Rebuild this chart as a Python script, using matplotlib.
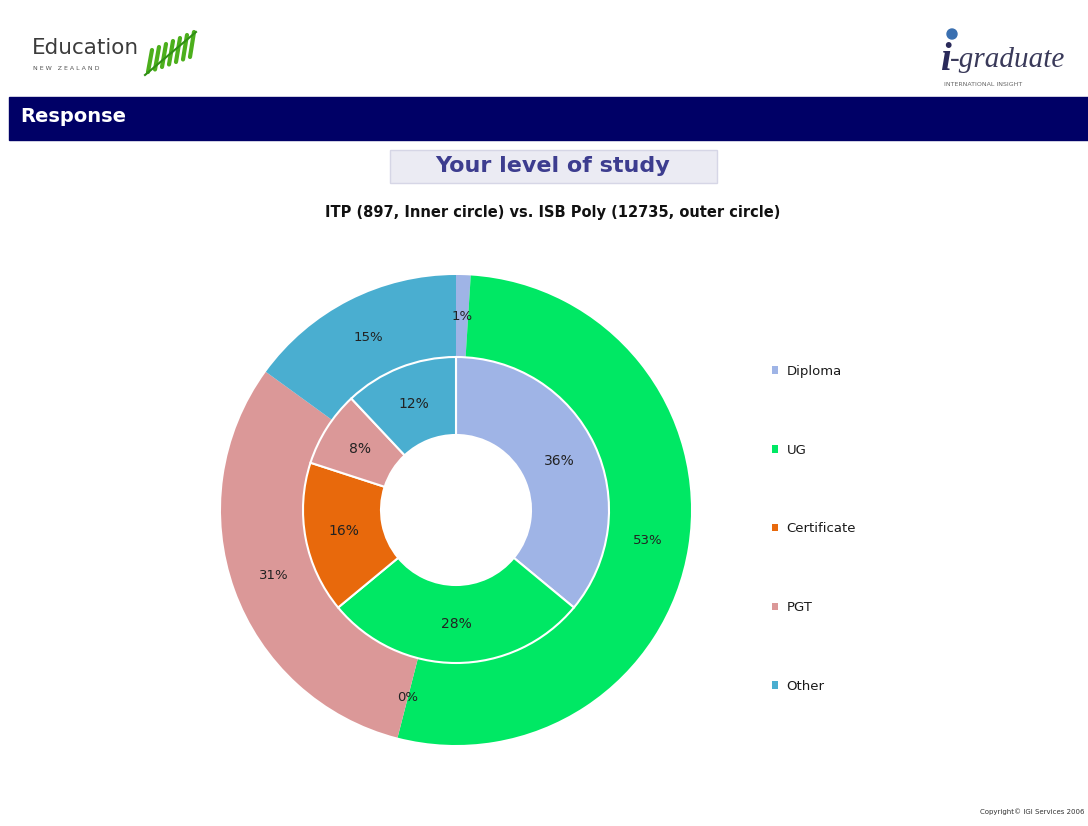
import matplotlib.pyplot as plt
from matplotlib.patches import Rectangle, Patch

levels = ['Diploma', 'UG', 'Certificate', 'PGT', 'Other']
itp_inner = [36, 28, 16, 8, 12]
isb_outer = [1, 53, 0, 31, 15]
colors = ['#9fb4e6', '#00e864', '#e8690c', '#db9898', '#4aaed0']

fig = plt.figure(figsize=(10.88, 8.26), dpi=100)
ax = fig.add_axes([0, 0, 1, 1])

H = 826

# header logos
ax.text(32, H - 48, 'Education', fontsize=15.5, color='#3c3c3c', va='center', ha='left')
ax.text(33, H - 68, 'N E W   Z E A L A N D', fontsize=4.5, color='#555555', va='center', ha='left')
for i in range(7):
    x0 = 148 + i * 7
    ax.plot([x0, x0 + 4], [H - 72 + i * 2.5, H - 50 + i * 3], color='#4caf1c', lw=3, solid_capstyle='round')
ax.plot([145, 196], [H - 75, H - 32], color='#2f8f14', lw=1.5)

ax.text(940, H - 60, 'i', fontsize=28, color='#2a2a5a', style='italic', fontweight='bold',
        family='Liberation Serif', va='center', ha='left')
ax.text(950, H - 60, '-graduate', fontsize=21, color='#3a3a5a', style='italic',
        family='Liberation Serif', va='center', ha='left')
ax.add_patch(plt.Circle((952, H - 34), 5, color='#3a6fb0'))
ax.text(944, H - 85, 'INTERNATIONAL INSIGHT', fontsize=4.5, color='#666666', va='center', ha='left')

# navy bar
ax.add_patch(Rectangle((9, H - 140), 1079, 43, color='#000066'))
ax.text(20, H - 117, 'Response', fontsize=14, fontweight='bold', color='white', va='center', ha='left')

# title box
ax.add_patch(Rectangle((390, H - 183), 327, 33, facecolor='#ebebf3', edgecolor='#d6d6e6', lw=1))
ax.text(553, H - 166, 'Your level of study', fontsize=16, fontweight='bold', color='#3d3d8f',
        va='center', ha='center')
ax.text(553, H - 212, 'ITP (897, Inner circle) vs. ISB Poly (12735, outer circle)', fontsize=10.5,
        fontweight='bold', color='#111111', va='center', ha='center')

cx, cy = 456, H - 510
R_out, R_mid, R_in = 235, 153, 75

ax.pie(isb_outer, radius=R_out, center=(cx, cy), colors=colors, startangle=90, counterclock=False,
       autopct=lambda p: f'{p:.0f}%', pctdistance=(R_out + R_mid) / 2 / R_out,
       wedgeprops=dict(width=R_out - R_mid, edgecolor='none'),
       textprops=dict(fontsize=9.5, color='#222222'), frame=True)
ax.pie(itp_inner, radius=R_mid, center=(cx, cy), colors=colors, startangle=90,
       counterclock=False, autopct=lambda p: f'{p:.0f}%',
       pctdistance=(R_mid + R_in) / 2 / R_mid,
       wedgeprops=dict(width=R_mid - R_in, edgecolor='white', linewidth=1.5),
       textprops=dict(fontsize=10, color='#222222'), frame=True)
ax.set_xlim(0, 1088)
ax.set_ylim(0, 826)
ax.set_aspect('equal')
ax.axis('off')

handles = [Patch(facecolor=c, label=l) for c, l in zip(colors, levels)]
ax.legend(handles=handles, loc='upper left', bbox_to_anchor=(760 / 1088, 1 - 353 / 826),
          frameon=False, fontsize=9.5, handlelength=0.5, handleheight=0.5, handletextpad=0.6,
          labelspacing=4.98, labelcolor='#1a1a1a')

ax.text(1085, H - 812, 'Copyright\u00a9 IGI Services 2006', fontsize=5, color='#333333',
        va='center', ha='right')

fig.savefig('out.png', dpi=100, facecolor='white')
